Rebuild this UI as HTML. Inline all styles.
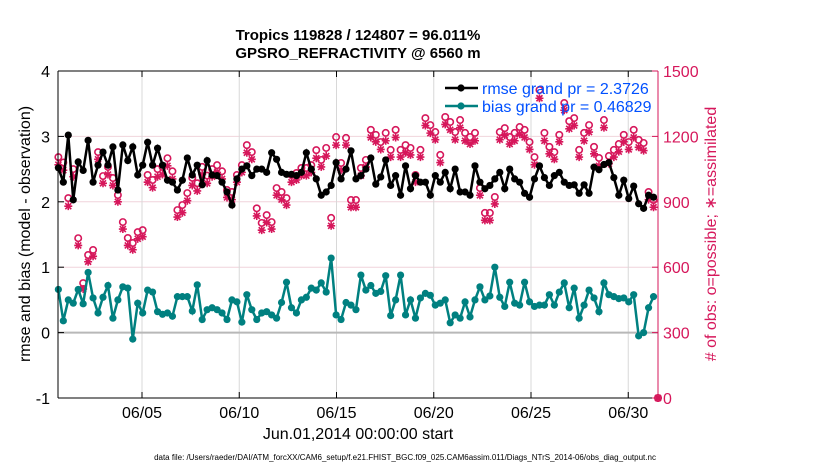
<!DOCTYPE html>
<html><head><meta charset="utf-8"><style>
body{margin:0;background:#fff;width:830px;height:470px;overflow:hidden;font-family:"Liberation Sans",sans-serif}
</style></head><body>
<svg id="chart" width="830" height="470" xmlns="http://www.w3.org/2000/svg" font-family="Liberation Sans, sans-serif"></svg>
<script>
const rmse=[2.52,2.30,3.02,2.03,2.61,2.48,2.94,2.30,2.56,2.76,2.56,2.84,2.18,2.87,2.63,2.84,2.41,2.56,2.91,2.56,2.82,2.56,2.33,2.30,2.18,2.33,2.67,2.41,2.56,2.26,2.63,2.41,
2.4,2.3,2.15,1.95,2.35,2.5,2.55,2.4,2.5,2.5,2.45,2.75,2.65,2.45,2.42,2.42,2.4,2.45,2.75,2.5,2.35,2.1,2.15,2.25,2.6,2.35,2.5,2.78,2.35,2.4,2.5,
2.67,2.27,2.38,2.64,2.25,2.4,2.1,2.55,2.2,2.4,2.3,2.3,2.1,2.4,2.3,2.45,2.2,2.5,2.15,2.15,2.1,2.55,2.3,2.2,2.25,2.35,2.45,2.2,2.5,
2.35,2.3,2.13,2.07,2.35,2.55,2.37,2.25,2.4,2.45,2.3,2.25,2.26,2.13,2.26,2.13,2.53,2.49,2.57,2.6,2.37,2.1,2.33,2.05,2.24,1.97,1.9,2.1,2.07];
const bias=[0.66,0.18,0.5,0.45,0.66,0.44,0.92,0.53,0.3,0.54,0.72,0.22,0.5,0.7,0.68,-0.1,0.45,0.3,0.65,0.62,0.32,0.28,0.3,0.25,0.55,0.55,0.55,0.33,0.73,0.2,0.35,0.38,
0.35,0.3,0.2,0.5,0.47,0.16,0.58,0.35,0.2,0.3,0.32,0.27,0.22,0.46,0.77,0.38,0.3,0.5,0.54,0.68,0.65,0.76,0.62,1.14,0.27,0.2,0.46,0.42,0.35,0.88,0.65,
0.72,0.6,0.63,0.87,0.26,0.5,0.88,0.27,0.5,0.22,0.53,0.6,0.57,0.42,0.45,0.5,0.15,0.27,0.22,0.47,0.24,0.5,0.7,0.5,0.56,1.0,0.54,0.4,0.77,
0.45,0.42,0.77,0.47,0.4,0.42,0.42,0.58,0.42,0.62,0.76,0.38,0.68,0.22,0.42,0.65,0.53,0.32,0.76,0.58,0.55,0.52,0.53,0.47,0.58,-0.05,0.0,0.38,0.55];
const possible=[1105,1080,917,1050,733,527,656,679,1128,1018,1060,1009,931,807,734,711,761,770,1023,1000,1050,1060,1100,1040,862,885,940,1010,985,1060,1020,1050,
1068,1040,954,945,1023,1068,1160,1128,870,803,839,807,963,945,917,1023,1032,1055,1055,1068,1137,1092,1147,826,1197,1078,1193,908,908,1055,1092,
1230,1207,1174,1216,1138,1230,1138,1160,1147,1023,1138,1284,1252,1220,1115,1289,1266,1220,1275,1216,1197,1216,963,849,849,922,1220,1238,1197,
1216,1243,1230,1174,1105,1413,1216,1152,1128,1207,1353,1270,1284,1138,1216,1252,1152,1101,1275,1110,1138,1165,1207,1174,1230,1184,1170,945,908,0];
const assimilated=[1070,1045,880,1015,700,500,625,650,1095,985,1025,975,900,775,700,680,730,740,990,965,1015,1025,1065,1005,830,850,905,975,950,1025,985,1015,
1035,1005,920,910,990,1035,1125,1095,835,770,805,775,930,910,885,990,1000,1020,1020,1035,1100,1060,1110,790,1160,1045,1160,875,875,1020,1060,
1195,1175,1140,1180,1105,1195,1105,1125,1115,990,1105,1250,1215,1185,1080,1255,1230,1185,1240,1180,1165,1180,930,815,815,890,1185,1205,1165,
1180,1210,1195,1140,1070,1375,1180,1120,1095,1175,1320,1235,1250,1105,1180,1220,1120,1065,1240,1075,1105,1130,1175,1140,1195,1150,1135,910,875,0];
const leftTicks=[-1,0,1,2,3,4];
const rightTicks=[0,300,600,900,1200,1500];
const dateTicks=[5,10,15,20,25,30];
const dateLabels=["06/05","06/10","06/15","06/20","06/25","06/30"];

const L=58,R=658,T=71,B=398;
const xd=d=>142+(d-5)*19.45;
const yl=v=>B-(v+1)/5*(B-T);
const yr=v=>B-v/1500*(B-T);
const dayOf=i=>0.7+i*0.255;
const svg=document.getElementById('chart');
const NS='http://www.w3.org/2000/svg';
function mk(tag,at,parent){const e=document.createElementNS(NS,tag);for(const k in at)e.setAttribute(k,at[k]);(parent||svg).appendChild(e);return e;}
function txt(s,at,parent){const e=mk('text',at,parent);e.textContent=s;return e;}

rightTicks.forEach(v=>{if(v>0&&v<1500){const g=mk('line',{x1:L,x2:R,y1:yr(v),y2:yr(v),stroke:'#f0d4dc','stroke-width':1});

}});
dateTicks.forEach(d=>{const g=mk('line',{x1:xd(d),x2:xd(d),y1:T,y2:B,stroke:'#d8d8d8','stroke-width':1});

});
const zl=mk('line',{x1:L,x2:R,y1:yl(0),y2:yl(0),stroke:'#b8b8b8','stroke-width':2});



const obsG=mk('g',{});


possible.forEach((v,i)=>{const x=i<rmse.length?xd(dayOf(i)):R;
const c=mk('circle',{cx:x,cy:yr(v),r:3.2,fill:'none',stroke:'#d6175b','stroke-width':1.6},obsG);

});
assimilated.forEach((v,i)=>{const x=i<rmse.length?xd(dayOf(i)):R;const y=yr(v);
const s=mk('path',{d:`M${x-4},${y}H${x+4}M${x},${y-4}V${y+4}M${x-3},${y-3}L${x+3},${y+3}M${x-3},${y+3}L${x+3},${y-3}`,stroke:'#d6175b','stroke-width':1.6},obsG);

});

function series(arr,color,name){
const g=mk('g',{});


mk('polyline',{points:arr.map((v,i)=>xd(dayOf(i))+','+yl(v)).join(' '),fill:'none',stroke:color,'stroke-width':2.5},g);
arr.forEach((v,i)=>{const c=mk('circle',{cx:xd(dayOf(i)),cy:yl(v),r:3.6,fill:color},g);

});}
series(rmse,'#000','rmse');
series(bias,'#008080','bias');

mk('line',{x1:L,x2:R,y1:T,y2:T,stroke:'#000'});
mk('line',{x1:L,x2:R,y1:B,y2:B,stroke:'#000'});
mk('line',{x1:L,x2:L,y1:T,y2:B,stroke:'#000'});
mk('line',{x1:R,x2:R,y1:T,y2:B,stroke:'#d6175b'});
leftTicks.forEach(v=>{mk('line',{x1:L,x2:L+6,y1:yl(v),y2:yl(v),stroke:'#000'});
const t=txt(String(v),{x:L-8,y:yl(v)+6,'text-anchor':'end','font-size':16});

});
rightTicks.forEach(v=>{mk('line',{x1:R-6,x2:R,y1:yr(v),y2:yr(v),stroke:'#d6175b'});
const t=txt(String(v),{x:R+5,y:yr(v)+6,'font-size':16,fill:'#d6175b'});

});
dateTicks.forEach((d,i)=>{mk('line',{x1:xd(d),x2:xd(d),y1:B,y2:B-6,stroke:'#000'});mk('line',{x1:xd(d),x2:xd(d),y1:T,y2:T+6,stroke:'#000'});
const t=txt(dateLabels[i],{x:xd(d),y:B+20,'text-anchor':'middle','font-size':16});

});

const lg=mk('g',{});


mk('line',{x1:445,x2:478,y1:88,y2:88,stroke:'#000','stroke-width':2.5},lg);mk('circle',{cx:461,cy:88,r:3.6,fill:'#000'},lg);
txt('rmse grand pr = 2.3726',{x:482,y:94,'font-size':16,fill:'#0050ff'},lg);
mk('line',{x1:445,x2:478,y1:106,y2:106,stroke:'#008080','stroke-width':2.5},lg);mk('circle',{cx:461,cy:106,r:3.6,fill:'#008080'},lg);
txt('bias grand pr = 0.46829',{x:482,y:112,'font-size':16,fill:'#0050ff'},lg);
</script>
<div style="position:absolute;left:0;top:0;width:830px;height:470px;pointer-events:none">
<div style="position:absolute;left:158px;width:400px;top:27px;text-align:center;font-weight:bold;font-size:15px;line-height:18px">Tropics 119828 / 124807 = 96.011%<br>GPSRO_REFRACTIVITY @ 6560 m</div>
<div style="position:absolute;left:26px;top:234px;transform:translate(-50%,-50%) rotate(-90deg);white-space:nowrap;font-size:16px">rmse and bias (model - observation)</div>
<div style="position:absolute;left:711px;top:234px;transform:translate(-50%,-50%) rotate(-90deg);white-space:nowrap;font-size:16px;color:#d6175b"># of obs: o=possible; ∗=assimilated</div>
<div style="position:absolute;left:358px;top:426px;transform:translateX(-50%);white-space:nowrap;font-size:16px">Jun.01,2014 00:00:00 start</div>
<div style="position:absolute;left:405px;top:453px;transform:translateX(-50%);white-space:nowrap;font-size:8px">data file: /Users/raeder/DAI/ATM_forcXX/CAM6_setup/f.e21.FHIST_BGC.f09_025.CAM6assim.011/Diags_NTrS_2014-06/obs_diag_output.nc</div>
</div>
</body></html>
